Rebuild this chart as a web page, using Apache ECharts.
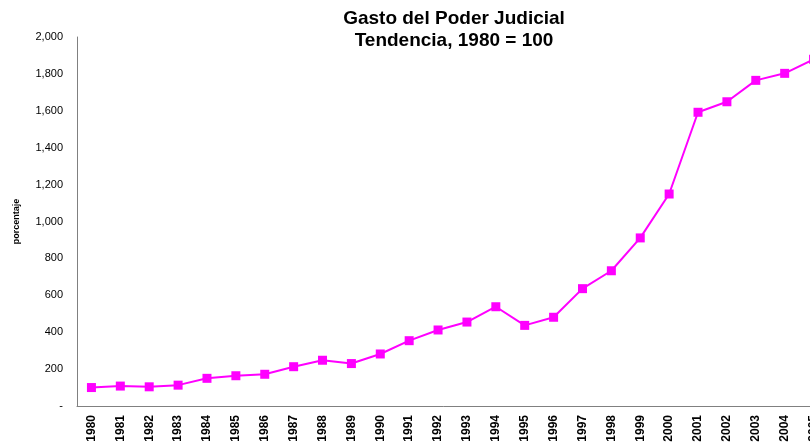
<!DOCTYPE html>
<html>
<head>
<meta charset="utf-8">
<script src="https://cdn.jsdelivr.net/npm/echarts@6/dist/echarts.min.js"></script>
<style>
  html, body { margin: 0; padding: 0; background: #fff; }
  #main { width: 810px; height: 446px; }
</style>
</head>
<body>
<div id="main"></div>
<script>
// años y valores (1980 = 100)
var years = ['1980','1981','1982','1983','1984','1985','1986','1987','1988','1989',
             '1990','1991','1992','1993','1994','1995','1996','1997','1998','1999',
             '2000','2001','2002','2003','2004','2005'];
var gasto = [100, 108, 104, 113, 150, 164, 172, 213, 248, 230,
             282, 354, 412, 455, 538, 437, 481, 636, 733, 911,
             1149, 1592, 1649, 1765, 1803, 1879];
var yTicks = { min: 0, max: 2000, step: 200 };

var myChart = echarts.init(document.getElementById('main'));

myChart.setOption({
    animation: false,
    title: {
        text: 'Gasto del Poder Judicial\nTendencia, 1980 = 100',
        left: 449,
        top: 3,
        textAlign: 'center',
        textStyle: {
            fontFamily: 'Liberation Sans',
            fontSize: 19,
            fontWeight: 'bold',
            color: '#000',
            lineHeight: 22
        }
    },
    // el gráfico original está recortado a la derecha (2005 queda fuera)
    grid: {
        left: 77,
        top: 37,
        bottom: 40,
        width: 751,
        containLabel: false,
        outerBoundsMode: 'none'
    },
    xAxis: {
        type: 'category',
        data: years,
        boundaryGap: true,
        axisLine: { lineStyle: { color: '#808080', width: 1 } },
        axisTick: { show: false },
        axisLabel: {
            rotate: 90,
            interval: 0,
            margin: 9,
            fontFamily: 'Liberation Sans',
            fontSize: 12,
            fontWeight: 'bold',
            color: '#000'
        },
        splitLine: { show: false }
    },
    yAxis: {
        type: 'value',
        min: yTicks.min,
        max: yTicks.max,
        interval: yTicks.step,
        name: 'porcentaje',
        nameLocation: 'middle',
        nameGap: 56,
        nameRotate: 90,
        nameTextStyle: {
            fontFamily: 'Liberation Sans',
            fontSize: 9,
            fontWeight: 'bold',
            color: '#000'
        },
        axisLine: { show: true, lineStyle: { color: '#808080', width: 1 } },
        axisTick: { show: false },
        splitLine: { show: false },
        axisLabel: {
            margin: 14,
            fontFamily: 'Liberation Sans',
            fontSize: 11,
            color: '#000',
            formatter: function (v) {
                if (v === 0) return '-';
                return v.toLocaleString('en-US');
            }
        }
    },
    series: [
        {
            name: 'Gasto',
            type: 'line',
            data: gasto,
            symbol: 'rect',
            symbolSize: 9,
            lineStyle: { color: '#ff00ff', width: 2 },
            itemStyle: { color: '#ff00ff' }
        }
    ]
});
</script>
</body>
</html>
